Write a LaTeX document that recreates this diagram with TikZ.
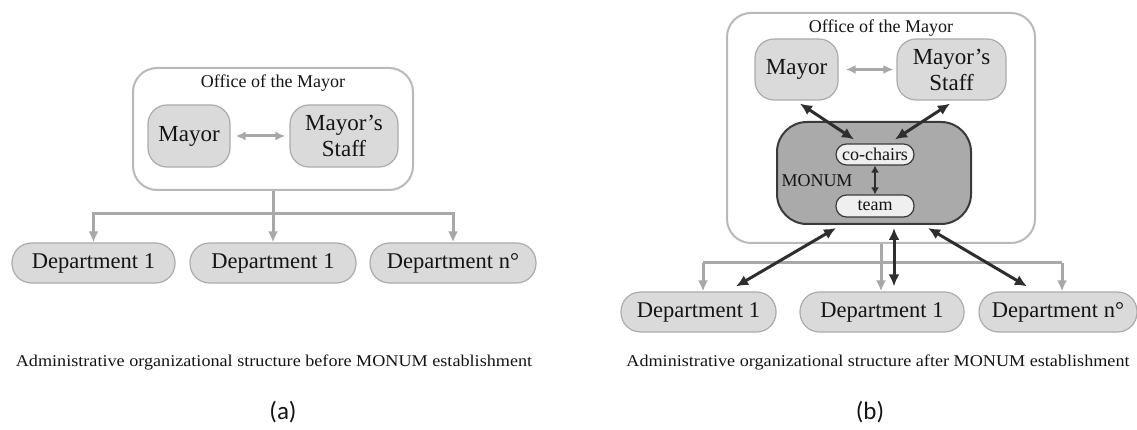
\documentclass[tikz,border=0pt]{standalone}
\usepackage{fontspec}
\setmainfont{Liberation Serif}
\newfontfamily\serifface{Liberation Serif}
\newfontfamily\labelfont{Carlito}
\usetikzlibrary{arrows.meta,calc}

\definecolor{boxline}{HTML}{B9B9B9}
\definecolor{unitfill}{HTML}{DADADA}
\definecolor{unitline}{HTML}{ABABAB}
\definecolor{linkgray}{HTML}{A8A8A8}
\definecolor{monumfill}{HTML}{AAAAAA}
\definecolor{monumline}{HTML}{3A3A3A}
\definecolor{innerfill}{HTML}{EFEFEF}
\definecolor{darklink}{HTML}{2E2E2E}
\definecolor{ink}{HTML}{141414}

\begin{document}
\begin{tikzpicture}[x=1pt,y=1pt,
  office/.style={draw=boxline, line width=2pt, rounded corners=24pt, fill=white, inner sep=0pt},
  title/.style={text=ink, font=\serifface\fontsize{18}{20}\selectfont, inner sep=0pt},
  unit/.style={draw=unitline, line width=1.2pt, fill=unitfill, rounded corners=19pt,
    inner sep=0pt, align=center, text=ink, font=\serifface\fontsize{23}{26}\selectfont},
  dept/.style={draw=unitline, line width=1.2pt, fill=unitfill, rounded corners=19.5pt,
    minimum height=40pt, inner sep=0pt, text=ink, font=\serifface\fontsize{22.5}{26}\selectfont},
  monumbox/.style={draw=monumline, line width=2pt, fill=monumfill, rounded corners=30pt, inner sep=0pt},
  inner/.style={draw=monumline, line width=1.2pt, fill=innerfill, rounded corners=10.5pt,
    minimum width=78pt, inner sep=0pt, text=ink, font=\serifface\fontsize{18}{20}\selectfont},
  glink/.style={draw=linkgray, line width=3pt},
  garrow/.style={glink, -{Latex[length=11pt,width=10pt]}},
  gboth/.style={glink, {Latex[length=10pt,width=9pt]}-{Latex[length=10pt,width=9pt]}},
  dboth/.style={draw=darklink, line width=3pt, {Latex[length=12pt,width=11pt]}-{Latex[length=12pt,width=11pt]}},
  caption/.style={text=ink, font=\serifface\fontsize{16.5}{18}\selectfont, inner sep=0pt},
  panel/.style={text=ink, font=\labelfont\fontsize{25}{28}\selectfont, inner sep=0pt}
]
\useasboundingbox (0,0) rectangle (1137,-430);

% ---------------- (a) before MONUM ----------------
\node[office, minimum width=280pt, minimum height=122pt] (officeA) at (273,-129) {};
\node[title] (titleA) at (273,-83) {Office of the Mayor};
\node[unit, minimum width=82pt, minimum height=62pt] (mayorA) at (189,-136) {Mayor};
\node[unit, minimum width=108pt, minimum height=62pt] (staffA) at (344,-136) {Mayor’s\\Staff};
\draw[gboth, shorten <=5pt, shorten >=4pt] (mayorA) -- (staffA);

\node[dept, minimum width=163pt] (deptA1) at (93.5,-263) {Department 1};
\node[dept, minimum width=166pt] (deptA2) at (273,-263) {Department 1};
\node[dept, minimum width=166pt] (deptA3) at (453,-263) {Department n°};

\coordinate (jA) at (273,-214);
\draw[glink] (officeA.south) -- (jA);
\draw[garrow] (jA) -| (deptA1.north);
\draw[garrow] (jA) -| (deptA3.north);
\draw[garrow] (jA) -- (deptA2.north);

\node[caption] (capA) at (274,-362) {\scalebox{1.1}[1]{Administrative organizational structure before MONUM establishment}};
\node[panel] (labA) at (283,-412) {(a)};

% ---------------- (b) after MONUM ----------------
\node[office, minimum width=308pt, minimum height=230pt] (officeB) at (881,-128) {};
\node[title] (titleB) at (881,-28) {Office of the Mayor};
\node[unit, minimum width=83pt, minimum height=61pt] (mayorB) at (796.5,-69.5) {Mayor};
\node[unit, minimum width=109pt, minimum height=61pt] (staffB) at (951.5,-69.5) {Mayor’s\\Staff};
\draw[gboth, shorten <=7pt, shorten >=3pt] (mayorB) -- (staffB);

\node[monumbox, minimum width=194pt, minimum height=102pt] (monum) at (874,-173) {};
\node[inner, minimum height=21pt] (cochairs) at (875,-154.5) {co-chairs};
\node[inner, minimum height=22pt] (team) at (875,-206) {team};
\node[title] (monumlabel) at (817,-181) {MONUM};
\draw[draw=darklink, line width=2.2pt, {Latex[length=7pt,width=8pt]}-{Latex[length=7pt,width=8pt]}]
  (cochairs.south) -- (team.north);

\draw[dboth] ($(mayorB.south)+(3.5,-3)$) -- ($(cochairs.north)+(-21,4)$);
\draw[dboth] ($(staffB.south)+(-1.5,-3)$) -- ($(cochairs.north)+(20,4)$);

\node[dept, minimum width=155pt] (deptB1) at (698.5,-312) {Department 1};
\node[dept, minimum width=164pt] (deptB2) at (882,-312) {Department 1};
\node[dept, minimum width=158pt] (deptB3) at (1058,-312) {Department n°};

\coordinate (jB) at (881,-263);
\draw[glink] (officeB.south) -- (jB);
\draw[glink] (jB) -- (703,-263) coordinate (lB) -- (1062,-263) coordinate (rB);
\draw[garrow] (lB) -- (lB |- deptB1.north);
\draw[garrow] (rB) -- (rB |- deptB3.north);
\draw[garrow] (jB) -- (jB |- deptB2.north);

\draw[dboth] ($(monum.south)+(-38,-3)$) -- ($(deptB1.north)+(37.5,5)$);
\draw[dboth] ($(monum.south)+(20,-3)$) -- ($(deptB2.north)+(12,5)$);
\draw[dboth] ($(monum.south)+(54,-3)$) -- ($(deptB3.north)+(-31,5)$);

\node[caption] (capB) at (878,-362) {\scalebox{1.1}[1]{Administrative organizational structure after MONUM establishment}};
\node[panel] (labB) at (870,-412) {(b)};
\end{tikzpicture}
\end{document}
